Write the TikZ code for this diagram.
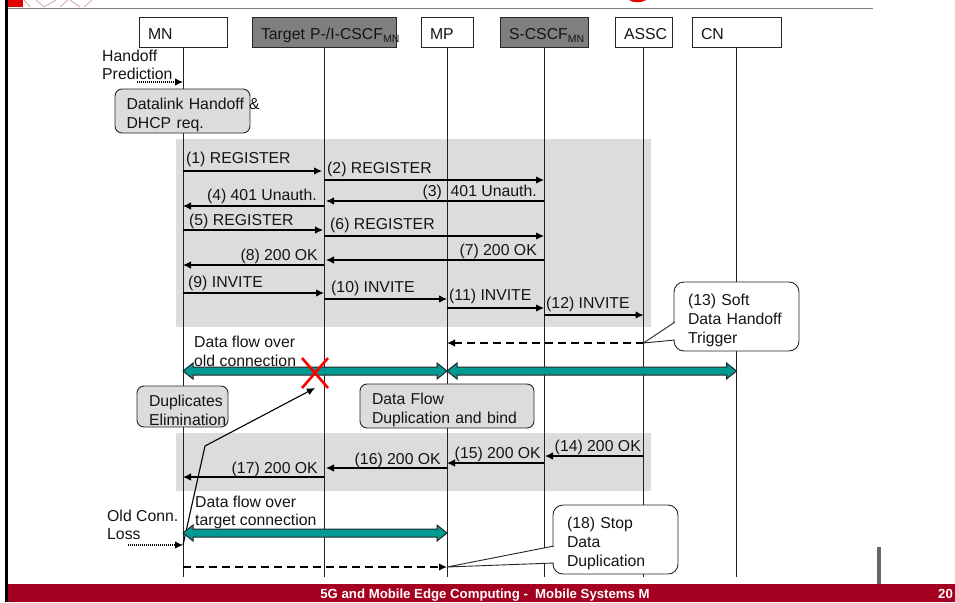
\documentclass[tikz,border=0pt]{standalone}
\usepackage{fontspec}
\setmainfont{Liberation Sans}
\usetikzlibrary{arrows.meta}
\definecolor{bandgray}{HTML}{DCDCDC}
\definecolor{darkbox}{HTML}{7F7F7F}
\definecolor{footred}{HTML}{A50021}
\definecolor{flowteal}{HTML}{009A93}
\definecolor{lineink}{HTML}{222222}
\tikzset{
  every node/.style={font=\fontsize{15.8}{18.8}\selectfont, text=black!92},
  lifebox/.style={draw=black!85,line width=0.9pt,fill=white,minimum height=30,inner ysep=0,inner xsep=9,text height=15,text depth=0,align=left},
  darklife/.style={lifebox,fill=darkbox},
  band/.style={fill=bandgray,draw=none},
  life/.style={draw=lineink,line width=0.9pt},
  msg/.style={draw=black,line width=1.1pt,-{Latex[length=8pt,width=7.5pt]}},
  dashmsg/.style={msg,line width=1.5pt,dash pattern=on 8pt off 5pt},
  dotmsg/.style={msg,dash pattern=on 1pt off 1pt},
  lab/.style={inner sep=0,anchor=base west},
  labr/.style={inner sep=0,anchor=base east},
  procbox/.style={draw=black!85,line width=0.9pt,fill=bandgray,rounded corners=7,inner ysep=0,align=left},
  callbox/.style={draw=black!85,line width=0.9pt,fill=white,rounded corners=10,inner ysep=0,align=left},
  flow/.style={draw=black!85,fill=flowteal,line width=1pt},
  block/.style={inner sep=0,anchor=north west,align=left},
  footer/.style={inner sep=0,font=\fontsize{13.2}{15}\bfseries\selectfont,text=white},
}
\newcommand{\toppad}{\rule{0pt}{19pt}}
\newcommand{\dataflow}[3]{% from node, to node, y
  \path[flow] (#1 |- 0,#3) -- ++(10,-8) -- ++(0,4) -- ([xshift=-10,yshift=4]#2 |- 0,#3) -- ++(0,-4) -- (#2 |- 0,#3) -- ++(-10,8) -- ++(0,-4) -- ([xshift=10,yshift=-4]#1 |- 0,#3) -- ++(0,4) -- cycle;
}
\begin{document}
\begin{tikzpicture}[x=1pt,y=-1pt]
\useasboundingbox (0,0) rectangle (955,602);
% page furniture
\fill[black] (5,0) rectangle (8,602);
\fill[red!90!black] (8,0) rectangle (23,7);
\draw[red!30!gray!60,line width=0.7pt] (24,0) -- (30,7) (36,0) -- (44,7) (44,7) -- (56,0) (60,7) -- (68,0) (70,0) -- (80,7) (84,7) -- (92,0);
\fill[red!90!black] (629,0) .. controls (633,3) and (642,3) .. (646,0) -- cycle;
\draw[gray,line width=1.6pt] (8,8.5) -- (873,8.5);
\fill[footred] (8,584) rectangle (955,602);
\fill[black!60] (877,547) rectangle (881,584);
\node[footer,anchor=base] (foot) at (485,598.5) {5G and Mobile Edge Computing -\ \ Mobile Systems M};
\node[footer,anchor=base west] (pageno) at (938,598.5) {20};
% bands
\path[band] (176,139) rectangle (651,327);
\path[band] (176,433) rectangle (651,491);
% actors
\node[lifebox,minimum width=88,text width=70] (mn) at (183,32) {MN};
\node[darklife,minimum width=144,text width=126] (tg) at (324,32) {\mbox{Target P-/I-CSCF{\fontsize{10.5}{10}\selectfont\raisebox{-3pt}{MN}}}};
\node[lifebox,minimum width=52,text width=34] (mp) at (447,32) {MP};
\node[darklife,minimum width=88,text width=70] (sc) at (544,32) {\mbox{S-CSCF{\fontsize{10.5}{10}\selectfont\raisebox{-3pt}{MN}}}};
\node[lifebox,minimum width=57,text width=39] (as) at (643.5,32) {\mbox{ASSC}};
\node[lifebox,minimum width=89,text width=71] (cn) at (736.5,32) {CN};
% lifelines
\foreach \n in {mn,tg,mp,sc,as,cn} \draw[life] (\n.south) -- (\n |- 0,577);
% predict
\coordinate (hp) at (137,82);
\draw[dotmsg] (hp) -- (mn |- hp);
\node[block] (hptext) at (102,49.5) {Handoff\\Prediction};
\node[procbox,minimum width=135,minimum height=44,text width=112,inner xsep=11.5] (dl) at (182.5,111) {\toppad\mbox{Datalink Handoff \&}\\DHCP req.};
% messages
\draw[msg,shorten >=2pt] (mn |- 0,171) -- (tg |- 0,171);
\node[lab] (m1) at (186,163.5) {(1) REGISTER};
\draw[msg] (tg |- 0,180) -- (sc |- 0,180);
\node[lab] (m2) at (327,173) {(2) REGISTER};
\draw[msg,shorten >=2pt] (sc |- 0,201) -- (tg |- 0,201);
\node[labr] (m3) at (537,196.5) {(3)\ \ 401 Unauth.};
\draw[msg] (tg |- 0,206) -- (mn |- 0,206);
\node[labr] (m4) at (317,200) {(4) 401 Unauth.};
\draw[msg,shorten >=1pt] (mn |- 0,230) -- (tg |- 0,230);
\node[lab] (m5) at (189,225) {(5) REGISTER};
\draw[msg] (tg |- 0,236) -- (sc |- 0,236);
\node[lab] (m6) at (330,229) {(6) REGISTER};
\draw[msg,shorten >=2pt] (sc |- 0,260) -- (tg |- 0,260);
\node[labr] (m7) at (537,255) {(7) 200 OK};
\draw[msg] (tg |- 0,265) -- (mn |- 0,265);
\node[labr] (m8) at (318,260) {(8) 200 OK};
\draw[msg] (mn |- 0,293) -- (tg |- 0,293);
\node[lab] (m9) at (188,287) {(9) INVITE};
\draw[msg] (tg |- 0,299) -- (mp |- 0,299);
\node[lab] (m10) at (331,292) {(10) INVITE};
\draw[msg] (mp |- 0,308) -- (sc |- 0,308);
\node[lab] (m11) at (449,300.5) {(11) INVITE};
\draw[msg] (sc |- 0,315) -- (as |- 0,315);
\node[lab] (m12) at (546,308.5) {(12) INVITE};
\draw[dashmsg] (as |- 0,343) -- (mp |- 0,343);
% callout 13
\node[callbox,minimum width=125,minimum height=69,text width=97,inner xsep=14] (c13) at (736.5,316.5) {\toppad(13) Soft\\Data Handoff\\Trigger};
\path[fill=white] (as |- 0,343) -- (675,322) -- (675,340) -- cycle;
\draw[black!85,line width=0.9pt] (675,322) -- (as |- 0,343) -- (675,340);
% data flows
\dataflow{mn}{mp}{371}
\dataflow{mp}{cn}{371}
\node[block] (df1) at (194,335.9) {Data flow over\\old connection};
% red cross
\coordinate (xc) at (315,373);
\draw[red,line width=2.6pt] ([shift={(-13,-15)}]xc) -- ([shift={(13,15)}]xc) ([shift={(13,-15)}]xc) -- ([shift={(-13,15)}]xc);
% process boxes
\node[procbox,minimum width=91,minimum height=41,text width=67,inner xsep=12] (dup) at (182.5,406.5) {\toppad\mbox{Duplicates}\\\mbox{Elimination}};
\node[procbox,minimum width=174,minimum height=44,text width=150,inner xsep=12] (dfd) at (447,406) {\toppad Data Flow\\Duplication and bind};
% lower messages
\draw[msg,shorten >=1pt] (as |- 0,456) -- (sc |- 0,456);
\node[labr] (m14) at (641,451) {(14) 200 OK};
\draw[msg] (sc |- 0,463) -- (mp |- 0,463);
\node[labr] (m15) at (541,458) {(15) 200 OK};
\draw[msg,shorten >=2pt] (mp |- 0,468) -- (tg |- 0,468);
\node[labr] (m16) at (441,464) {(16) 200 OK};
\draw[msg] (tg |- 0,477) -- (mn |- 0,477);
\node[labr] (m17) at (318,473) {(17) 200 OK};
% old conn loss
\coordinate (ol) at (128,545);
\draw[dotmsg] (ol) -- (mn |- ol);
\node[block] (oltext) at (107,509.5) {Old Conn.\\Loss};
\coordinate (xtip) at (315,388);
\draw[msg] (mn |- ol) -- (205,446) -- (xtip);
% target data flow
\dataflow{mn}{mp}{533}
\node[block] (df2) at (195,495.4) {Data flow over\\target connection};
% stop
\draw[dashmsg] (mn |- 0,567) -- (mp |- 0,567);
\node[callbox,minimum width=125,minimum height=69,text width=97,inner xsep=14] (c18) at (615.5,539.5) {\toppad(18) Stop\\Data\\Duplication};
\path[fill=white] (mp |- 0,567) -- (554,546) -- (554,563) -- cycle;
\draw[black!85,line width=0.9pt] (554,546) -- (mp |- 0,567) -- (554,563);
\end{tikzpicture}
\end{document}
